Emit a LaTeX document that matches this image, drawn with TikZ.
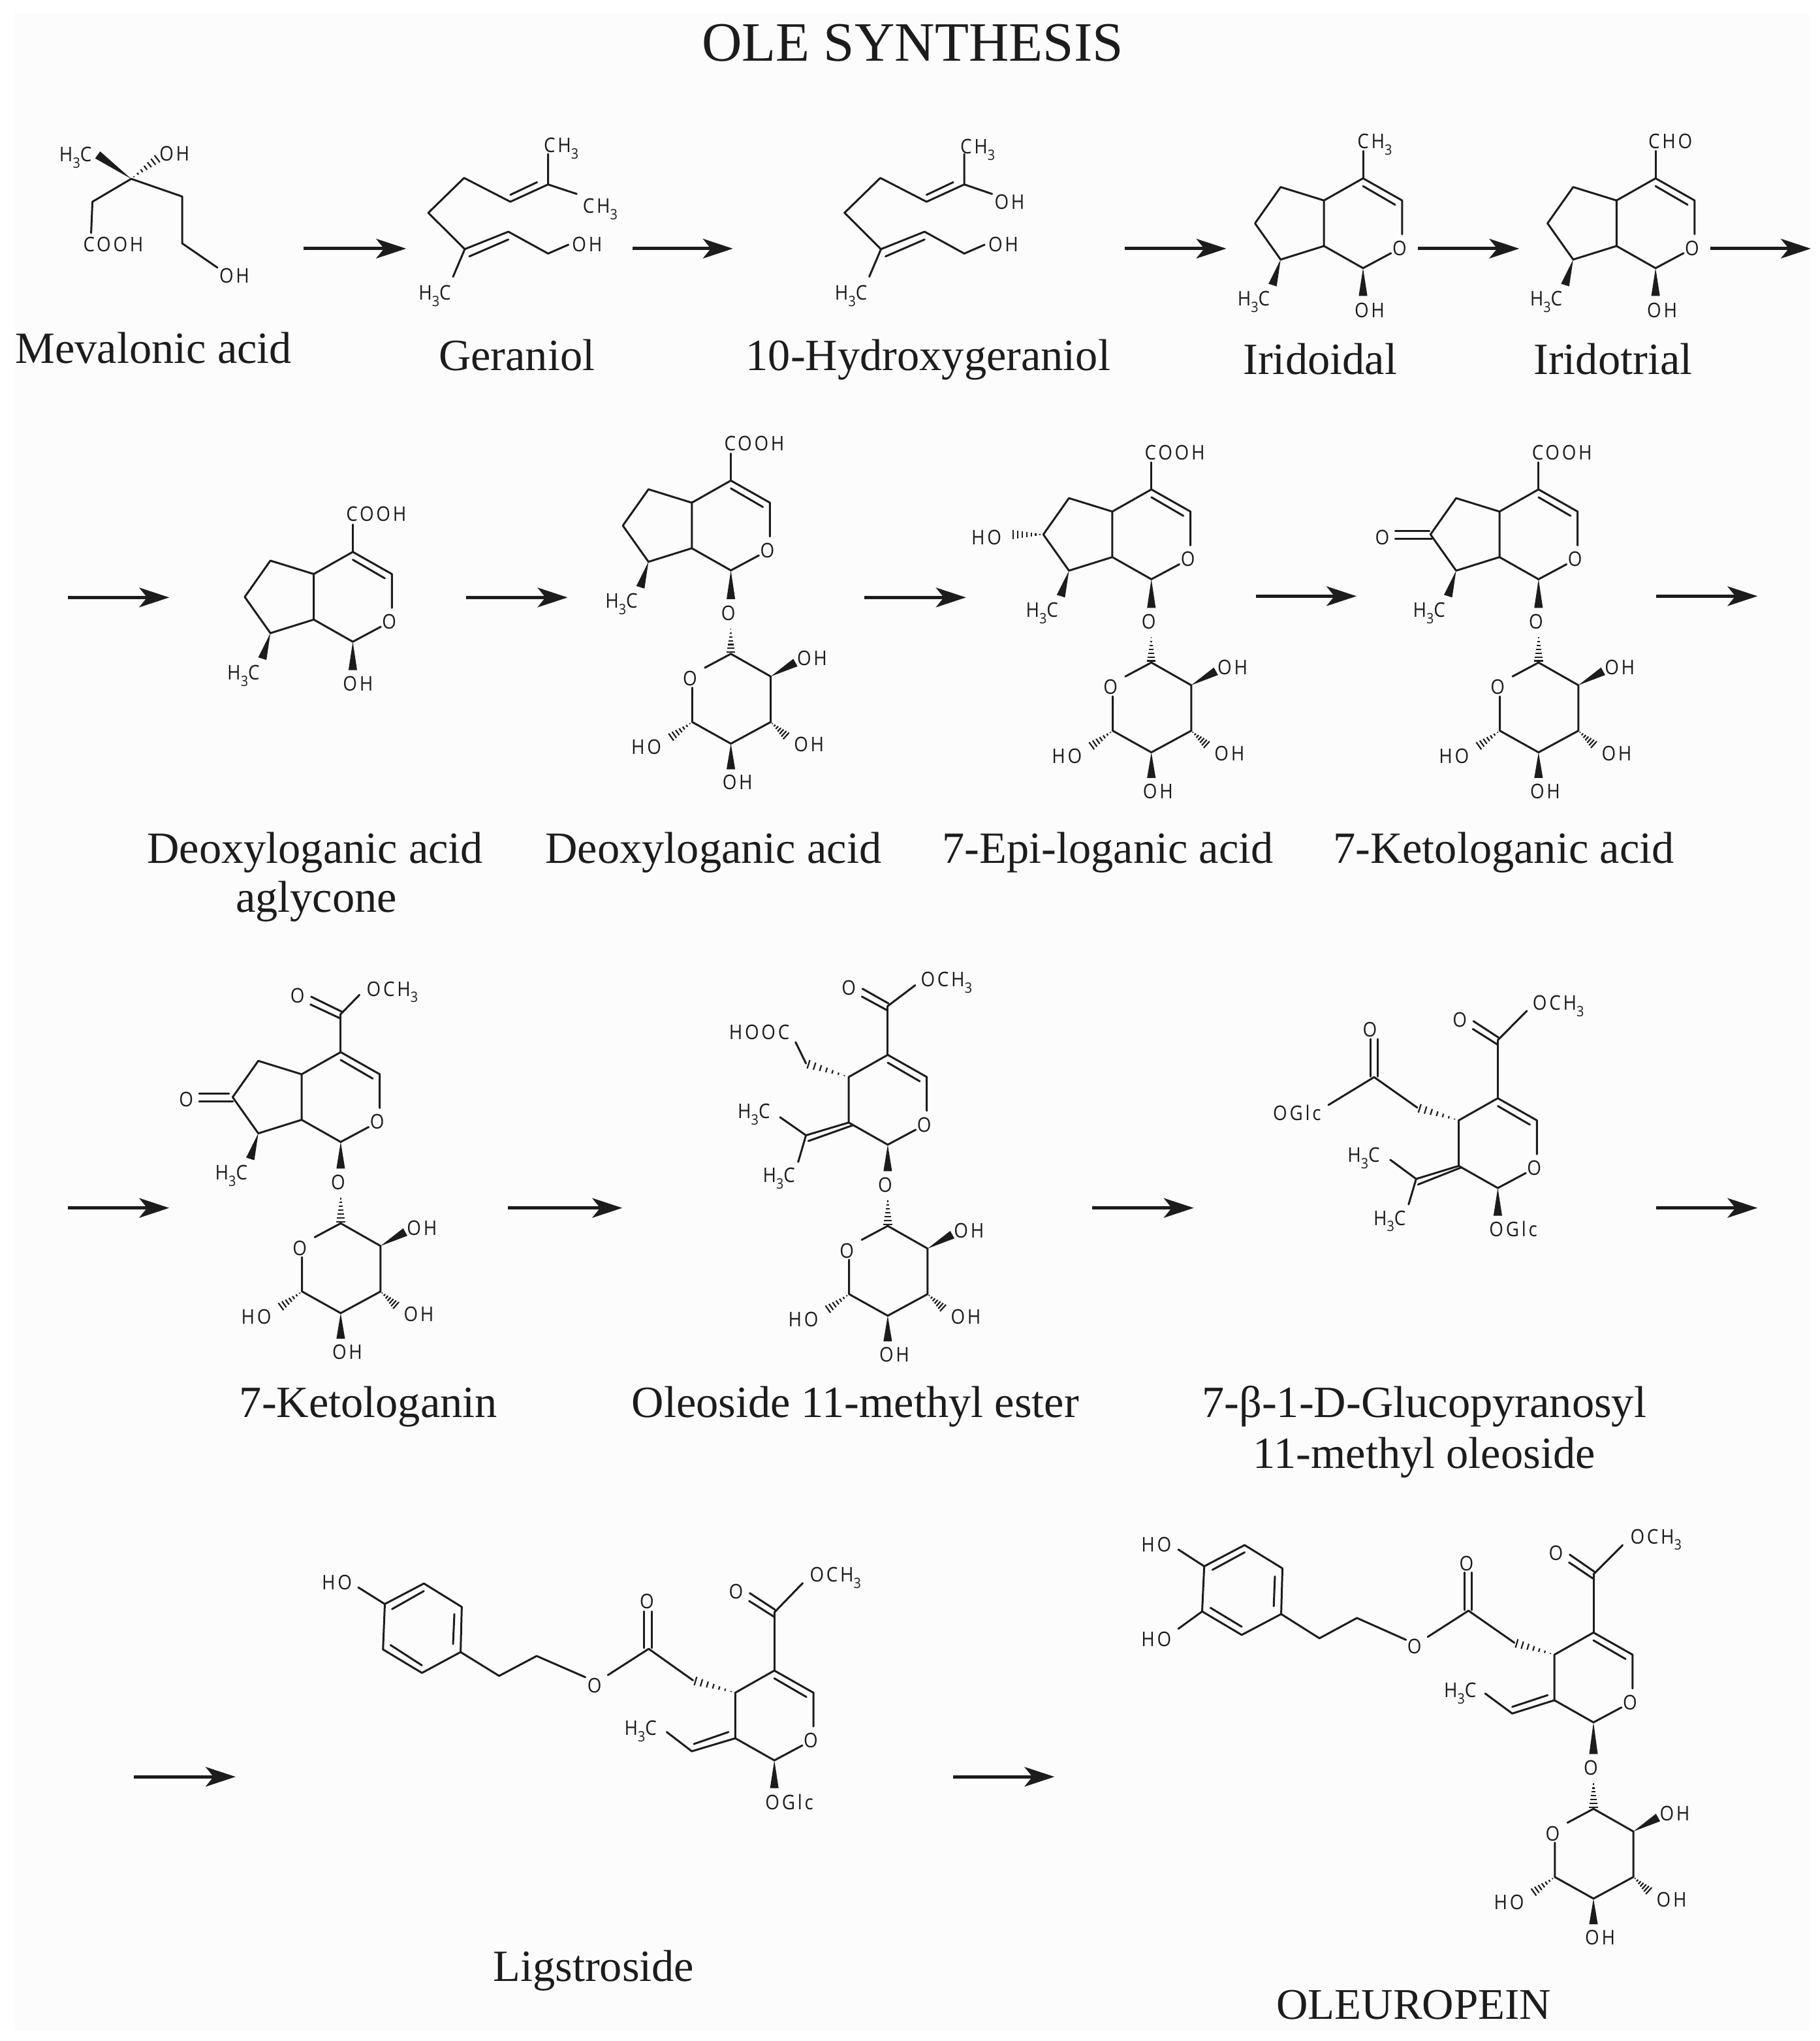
\documentclass[tikz,border=0pt]{standalone}
\usepackage{fontspec}
\setmainfont{Liberation Serif}
\newfontfamily\atomfont{Open Sans}[LetterSpace=12,FakeStretch=0.9]
\usetikzlibrary{arrows.meta,calc}
\definecolor{ink}{HTML}{1C1C1C}
\definecolor{paper}{HTML}{FCFCFC}
\tikzset{
  bond/.style={draw=ink,line width=1.5pt,line cap=round,line join=round},
  hashline/.style={draw=ink,line width=1.1pt},
  reaction/.style={draw=ink,line width=2.6pt,-{Stealth[length=23pt,width=15pt,inset=6pt]}},
  atom/.style={font=\atomfont\fontsize{15.5}{16}\selectfont,text=ink,inner sep=0pt,anchor=base,yshift=-5.6pt},
  compound/.style={font=\fontsize{34.3}{36}\selectfont,text=ink,inner sep=0pt,anchor=base},
}
\newcommand{\tsub}[1]{\raisebox{-0.32em}{\fontsize{11}{11}\selectfont #1}}
% solid and hashed stereo bonds: narrow at the first point
\newcommand{\wedgebond}[2]{\fill[ink] (#1) -- ($(#2)!3.3pt!90:(#1)$) -- ($(#2)!3.3pt!-90:(#1)$) -- cycle;}
\newcommand{\hashbond}[2]{\foreach \hpos in {0.1,0.24,...,1.0} {\draw[hashline] ($(#1)!\hpos!(#2)!\hpos*3.6pt!90:(#1)$) -- ($(#1)!\hpos!(#2)!\hpos*3.6pt!-90:(#1)$);}}
% six ring with its oxygen, origin at the carbon that carries the top group
\newcommand{\pyran}[3]{%
  \begin{scope}[shift={(#2,#3)}]
    \coordinate (#1c4) at (0,0);
    \coordinate (#1c3) at (30,17);
    \coordinate (#1c3o) at (30,43);
    \coordinate (#1c1o) at (21.5,57.5);
    \coordinate (#1c1) at (0,69);
    \coordinate (#1c9) at (-30,52);
    \coordinate (#1c5) at (-30,17);
    \node[atom] (#1o) at (28,53.5) {O};
    \draw[bond] (#1c3o) -- (#1c3) -- (#1c4) -- (#1c5) -- (#1c9) -- (#1c1) -- (#1c1o);
    \draw[bond] (0,6) -- (24.6,20.3);
  \end{scope}}
% pyran plus the five ring and its methyl
\newcommand{\iridoid}[3]{%
  \pyran{#1}{#2}{#3}
  \begin{scope}[shift={(#2,#3)}]
    \coordinate (#1c6) at (-63.3,6.7);
    \coordinate (#1c7) at (-83,34.6);
    \coordinate (#1c8) at (-63.3,62.4);
    \draw[bond] (#1c5) -- (#1c6) -- (#1c7) -- (#1c8) -- (#1c9);
    \wedgebond{#1c8}{-69.5,82}
    \node[atom] (#1me) at (-84,92.5) {H\tsub{3}C};
  \end{scope}}
% sugar ring, origin at its anomeric carbon, #4 is the carbon it hangs from
\newcommand{\glucose}[4]{%
  \begin{scope}[shift={(#2,#3)}]
    \coordinate (#1c1) at (0,0);
    \coordinate (#1c2) at (30.6,17.4);
    \coordinate (#1c3) at (30.6,52.4);
    \coordinate (#1c4) at (0,69);
    \coordinate (#1c5) at (-29.7,52.4);
    \coordinate (#1oa) at (-20,10.7);
    \coordinate (#1ob) at (-29.7,26);
    \node[atom] (#1o) at (-31.4,18.9) {O};
    \node[atom] (#1link) at (-2,-31.4) {O};
    \draw[bond] (#1oa) -- (#1c1) -- (#1c2) -- (#1c3) -- (#1c4) -- (#1c5) -- (#1ob);
    \wedgebond{#4}{0,-42}
    \hashbond{0,-21}{#1c1}
    \wedgebond{#1c2}{49.6,6.7}
    \hashbond{#1c3}{43.2,63.7}
    \wedgebond{#1c4}{0,88.7}
    \hashbond{#1c5}{-46.9,64.7}
    \node[atom] (#1oh2) at (62.4,3.4) {OH};
    \node[atom] (#1oh3) at (60,69.7) {OH};
    \node[atom] (#1oh4) at (5.1,98.7) {OH};
    \node[atom] (#1oh5) at (-64.9,71.7) {HO};
  \end{scope}}
% methyl ester, origin at the carbonyl carbon
\newcommand{\ester}[9]{%
  \begin{scope}[shift={(#2,#3)}]
    \coordinate (#1c) at (0,0);
    \node[atom] (#1ome) at (#6,#7) {OCH\tsub{3}};
    \node[atom] (#1od) at (#8,#9) {O};
    \draw[bond] (#1c) -- (#4,#5);
    \draw[bond] ($(#8,#9)+(10.5,1)$) -- (0.6,-2);
    \draw[bond] ($(#8,#9)+(10,7)$) -- (-0.5,3.2);
  \end{scope}}
% open chain of the two geraniols, origin at the far alkene carbon
\newcommand{\geranyl}[3]{%
  \begin{scope}[shift={(#2,#3)}]
    \coordinate (#1tip) at (0,0);
    \coordinate (#1top) at (0,-23.4);
    \node[atom] (#1me) at (-87,83.3) {H\tsub{3}C};
    \node[atom] (#1oh) at (30,46) {OH};
    \draw[bond] (#1top) -- (#1tip) -- (-29,13.3) -- (-64.5,-5) -- (-92,21.8) -- (-64,49.7) -- (-30.5,36.3) -- (0,53.1) -- (15.6,46.3);
    \draw[bond] (-64,49.7) -- (-73,70.9);
    \draw[bond] (-29,8) -- (-8.5,-1.7);
    \draw[bond] (-60.5,55.3) -- (-30.5,42.3);
  \end{scope}}
\begin{document}
\begin{tikzpicture}[x=1pt,y=-1pt]
  \useasboundingbox (0,0) rectangle (1398,1568);
  \fill[white] (0,0) rectangle (1398,1568);
  \fill[paper] (11,10) rectangle (1390,1560);

  \node[compound,font=\fontsize{42.7}{44}\selectfont] (title) at (701,47) {OLE SYNTHESIS};

  % first row
  \coordinate (mvc) at (100.8,137.4);
  \node[atom] (mvme) at (58,118.5) {H\tsub{3}C};
  \node[atom] (mvoh) at (134,118) {OH};
  \node[atom] (mvcooh) at (87,187.5) {COOH};
  \node[atom] (mvoh2) at (180,212) {OH};
  \wedgebond{mvc}{75,119}
  \hashbond{mvc}{122,121}
  \draw[bond] (70,179) -- (71,155) -- (mvc) -- (140,151) -- (140,187) -- (167,205.6);
  \node[compound] (mevalonic) at (118,279) {Mevalonic acid};

  \geranyl{ge}{421}{141.7}
  \node[atom] (geme1) at (431,111.7) {CH\tsub{3}};
  \node[atom] (geme2) at (461,158) {CH\tsub{3}};
  \draw[bond] (getip) -- (443,149);
  \node[compound] (geraniol) at (397,284.4) {Geraniol};

  \geranyl{hg}{740.7}{141.7}
  \node[atom] (hgme1) at (751,112.7) {CH\tsub{3}};
  \node[atom] (hgoh2) at (775.5,155) {OH};
  \draw[bond] (hgtip) -- (762,149);
  \node[compound] (hydroxy) at (713,284.4) {10-Hydroxygeraniol};

  \iridoid{io}{1047}{137}
  \wedgebond{ioc1}{1047,227.3}
  \node[atom] (iooh) at (1052,238.2) {OH};
  \node[atom] (iome2) at (1056,108.7) {CH\tsub{3}};
  \draw[bond] (ioc4) -- (1047,116);
  \node[compound] (iridoidal) at (1014,287.5) {Iridoidal};

  \iridoid{it}{1271.7}{137}
  \wedgebond{itc1}{1271.7,227.3}
  \node[atom] (itoh) at (1276.7,238.2) {OH};
  \node[atom] (itcho) at (1283,108.7) {CHO};
  \draw[bond] (itc4) -- (1271.7,116);
  \node[compound] (iridotrial) at (1239,287.5) {Iridotrial};

  % second row
  \iridoid{da}{271}{424}
  \wedgebond{dac1}{271,514.8}
  \node[atom] (daoh) at (275,525.4) {OH};
  \node[atom] (dacooh) at (289,395) {COOH};
  \draw[bond] (dac4) -- (271,403);
  \node[compound] (aglyc1) at (242,663) {Deoxyloganic acid};
  \node[compound] (aglyc2) at (243,701) {aglycone};

  \iridoid{dl}{561.4}{369.2}
  \glucose{dls}{561.4}{502.3}{dlc1}
  \node[atom] (dlcooh) at (579.4,340.6) {COOH};
  \draw[bond] (dlc4) -- (561.4,348.4);
  \node[compound] (deoxy) at (548,663) {Deoxyloganic acid};

  \iridoid{ep}{884.4}{376}
  \glucose{eps}{884.4}{509}{epc1}
  \node[atom] (epcooh) at (902.4,347.6) {COOH};
  \draw[bond] (epc4) -- (884.4,355.2);
  \hashbond{epc7}{776.9,410.6}
  \node[atom] (epho) at (757.7,412.6) {HO};
  \node[compound] (epi) at (851,663) {7-Epi-loganic acid};

  \iridoid{ke}{1181.8}{376}
  \glucose{kes}{1181.8}{509}{kec1}
  \node[atom] (kecooh) at (1199.8,347.6) {COOH};
  \draw[bond] (kec4) -- (1181.8,355.2);
  \node[atom] (keod) at (1061.7,412.6) {O};
  \draw[bond] (1071.7,408) -- (1098,408);
  \draw[bond] (1071.7,414) -- (1100,414);
  \node[compound] (ketoacid) at (1155,663) {7-Ketologanic acid};

  % third row
  \iridoid{kn}{261.7}{808.3}
  \glucose{kns}{261.7}{939.8}{knc1}
  \ester{kne}{261.7}{779.1}{14.4}{-14.8}{39.6}{-19.5}{-33.2}{-14.4}
  \draw[bond] (knc4) -- (knec);
  \node[atom] (knod) at (143,844.5) {O};
  \draw[bond] (153,840) -- (176,840);
  \draw[bond] (153,846) -- (179,846);
  \node[compound] (ketoganin) at (283,1089) {7-Ketologanin};

  \pyran{ol}{681.9}{810.4}
  \glucose{ols}{681.9}{941.8}{olc1}
  \ester{ole}{681.9}{772.9}{21.1}{-16}{45.1}{-20.4}{-29.9}{-14.3}
  \draw[bond] (olc4) -- (olec);
  \coordinate (olch) at (619.1,817);
  \hashbond{olc5}{olch}
  \node[atom] (olhooc) at (583.2,793) {HOOC};
  \draw[bond] (olch) -- (611.1,800.6);
  \coordinate (olx) at (619.1,872.2);
  \draw[bond] (olc9) -- (olx) -- (599.2,858.3);
  \draw[bond] (olx) -- (613.1,892.7);
  \draw[bond] (620.9,876.6) -- (655,864.5);
  \node[atom] (olme1) at (579.1,853.8) {H\tsub{3}C};
  \node[atom] (olme2) at (598.3,902.9) {H\tsub{3}C};
  \node[compound] (oleoside) at (657,1089) {Oleoside 11-methyl ester};

  \pyran{gl}{1150.5}{843.7}
  \wedgebond{glc1}{1150.5,934}
  \node[atom] (glogl) at (1162.4,944.5) {OGlc};
  \ester{gle}{1150.5}{799.1}{22.4}{-22.6}{46.5}{-28.8}{-29.2}{-15.6}
  \draw[bond] (glc4) -- (glec);
  \coordinate (glch) at (1088.6,850.9);
  \coordinate (glco) at (1055.5,827.5);
  \hashbond{glc5}{glch}
  \draw[bond] (glch) -- (glco) -- (1020.4,848.9);
  \node[atom] (glogl2) at (996.3,855) {OGlc};
  \node[atom] (glod) at (1052.2,790.7) {O};
  \draw[bond] (1052.7,798.2) -- (1052.7,827);
  \draw[bond] (1058.4,798.2) -- (1058.4,827);
  \coordinate (glx) at (1087.8,905.7);
  \draw[bond] (glc9) -- (glx) -- (1067.9,891);
  \draw[bond] (glx) -- (1082,925.3);
  \draw[bond] (1089.2,910) -- (1122.4,896.9);
  \node[atom] (glme1) at (1047.5,887.3) {H\tsub{3}C};
  \node[atom] (glme2) at (1067.4,935.6) {H\tsub{3}C};
  \node[compound] (gluco1) at (1094,1089) {7-β-1-D-Glucopyranosyl};
  \node[compound] (gluco2) at (1094,1128) {11-methyl oleoside};

  % last row
  \pyran{li}{594.8}{1283.4}
  \wedgebond{lic1}{594.8,1373.8}
  \node[atom] (liogl) at (606.3,1384.6) {OGlc};
  \ester{lie}{594.8}{1238.7}{21.8}{-22.5}{46.9}{-29.2}{-29.4}{-15.8}
  \draw[bond] (lic4) -- (liec);
  \coordinate (lich) at (532.3,1290.9);
  \hashbond{lic5}{lich}
  \coordinate (lico) at (498.3,1266.7);
  \draw[bond] (lich) -- (lico) -- (466.9,1286.9);
  \node[atom] (liod) at (496.9,1230.4) {O};
  \draw[bond] (494.8,1238) -- (494.8,1266);
  \draw[bond] (500.6,1238) -- (500.6,1266);
  \node[atom] (lioe) at (456.6,1294.7) {O};
  \draw[bond] (449.6,1288.5) -- (412.2,1272.2) -- (383.4,1287.5) -- (353.8,1269.2) -- (354.7,1234.5) -- (325.6,1216.5) -- (295.6,1232.3) -- (294.2,1267.2) -- (324.1,1285.2) -- (353.8,1269.2);
  \draw[bond] (349,1240) -- (348,1263);
  \draw[bond] (325.6,1222.3) -- (301.1,1236.2);
  \draw[bond] (300,1263.8) -- (324.1,1279.4);
  \draw[bond] (295.6,1232.3) -- (275.2,1219.5);
  \node[atom] (liho) at (258.8,1215.6) {HO};
  \coordinate (lix) at (531.4,1345.4);
  \draw[bond] (lic9) -- (lix) -- (512.1,1330.6);
  \draw[bond] (533,1339.8) -- (559.6,1330.6);
  \node[atom] (lime) at (492,1327.3) {H\tsub{3}C};
  \node[compound] (ligstroside) at (456,1522) {Ligstroside};

  \pyran{oe}{1224}{1254.2}
  \glucose{oes}{1224}{1389.6}{oec1}
  \ester{oee}{1224}{1209.4}{22.4}{-22.4}{48}{-29.1}{-28.8}{-16.1}
  \draw[bond] (oec4) -- (oeec);
  \coordinate (oech) at (1163.2,1262);
  \hashbond{oec5}{oech}
  \coordinate (oeco) at (1128,1237.4);
  \draw[bond] (oech) -- (oeco) -- (1096.7,1257.5);
  \node[atom] (oeod) at (1126.4,1201) {O};
  \draw[bond] (1124.9,1208) -- (1124.9,1237);
  \draw[bond] (1130.6,1208) -- (1130.6,1237);
  \node[atom] (oeoe) at (1086.5,1264.9) {O};
  \draw[bond] (1080,1259.8) -- (1042.3,1243) -- (1013.5,1258.6) -- (984.1,1240) -- (985.1,1204.9) -- (956,1187) -- (925,1203.3) -- (923.4,1238) -- (953.8,1256) -- (984.1,1240);
  \draw[bond] (979.3,1211) -- (978.4,1234);
  \draw[bond] (956,1192.6) -- (931.3,1206);
  \draw[bond] (929.8,1235.2) -- (953.8,1249.7);
  \draw[bond] (925,1203.3) -- (905.1,1190.4);
  \draw[bond] (923.4,1238) -- (905.1,1251.3);
  \node[atom] (oeho1) at (888.2,1186.6) {HO};
  \node[atom] (oeho2) at (888.2,1259.3) {HO};
  \coordinate (oex) at (1161.6,1316.4);
  \draw[bond] (oec9) -- (oex) -- (1140.8,1301);
  \draw[bond] (1161.6,1311.3) -- (1188.8,1302.3);
  \node[atom] (oeme) at (1121.6,1298.5) {H\tsub{3}C};
  \node[compound,font=\fontsize{33.6}{36}\selectfont] (oleuropein) at (1086,1551) {OLEUROPEIN};

  % reaction arrows
  \foreach \xa/\xb/\yy [count=\i] in {233/312/191,486/563/191,864/942/191,1089/1167/191,1314/1391/191,
      52/130/459,358/436/459,664/742/459,965/1042/458,1272/1350/458,
      52/130/928,390/478/928,839/917/928,1272/1350/928,103/181/1365,732/810/1365} {
    \coordinate (from\i) at (\xa,\yy);
    \coordinate (to\i) at (\xb,\yy);
    \draw[reaction] (from\i) -- (to\i);
  }
\end{tikzpicture}
\end{document}
